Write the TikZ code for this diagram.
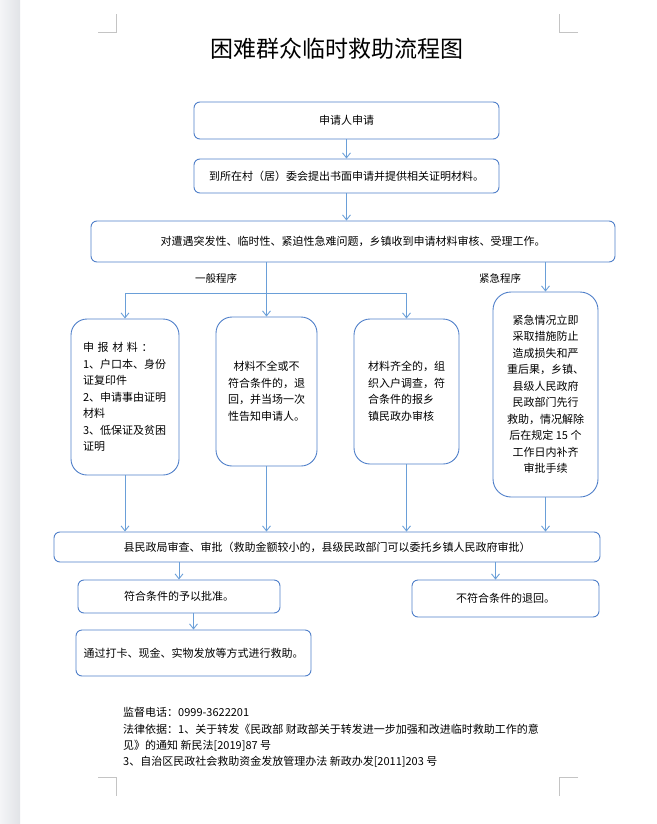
\documentclass[tikz,border=0pt]{standalone}
\usepackage{fontspec}
\setmainfont{Noto Sans CJK SC}
\usepackage{xcolor}
\usetikzlibrary{arrows.meta}
\definecolor{cFrame}{HTML}{4F7FC9}
\definecolor{cLink}{HTML}{6A9FD8}
\definecolor{cCrop}{HTML}{C4C4C4}
\definecolor{cStripL}{HTML}{F4F5F7}
\definecolor{cStripR}{HTML}{E1E3E7}
\tikzset{
  fbox/.style={draw=cFrame,rounded corners=#1,line width=0.9pt,align=center,inner sep=0pt,font=\fontsize{11}{16.5}\selectfont},
  fbox/.default=6pt,
  arr/.style={-{Straight Barb[length=5pt,width=8pt]},line width=0.9pt,color=cLink},
  lnk/.style={line width=0.9pt,color=cLink},
  lbl/.style={font=\fontsize{10.5}{12}\selectfont,inner sep=1pt},
  crop/.style={draw=cCrop,line width=0.8pt},
}

\begin{document}
\begin{tikzpicture}[x=1pt,y=-1pt]
  \useasboundingbox (0,0) rectangle (656,824);
  \shade[left color=cStripL,right color=cStripR] (0,0) rectangle (20,824);
  % crop marks
  \draw[crop] (98,32) -- (116,32) -- (116,14);
  \draw[crop] (578,32) -- (559,32) -- (559,14);
  \draw[crop] (98,777) -- (116,777) -- (116,796);
  \draw[crop] (578,777) -- (559,777) -- (559,796);
  \node[font=\fontsize{23}{23}\selectfont] (title) at (337,49) {困难群众临时救助流程图};
  % upper part
  \node[fbox,minimum width=305pt,minimum height=37pt] (apply) at (346.5,120.5) {申请人申请};
  \node[fbox,minimum width=305pt,minimum height=34pt] (submit) at (346.5,176) {到所在村（居）委会提出书面申请并提供相关证明材料。};
  \node[fbox,minimum width=524pt,minimum height=41pt] (accept) at (353,241.5) {对遭遇突发性、临时性、紧迫性急难问题，乡镇收到申请材料审核、受理工作。};
  \node[lbl] (normal) at (216,278) {一般程序};
  \node[lbl] (urgent) at (500,278) {紧急程序};
  % four columns
  \node[fbox=16pt,minimum width=108pt,minimum height=156pt,text width=84pt,align=left] (docs) at (125,397)
    {\makebox[80pt][s]{申 报 材 料 ：}\\1、户口本、身份\\证复印件\\2、申请事由证明\\材料\\3、低保证及贫困\\证明};
  \node[fbox=16pt,minimum width=101pt,minimum height=149pt] (reject) at (266.5,391.5)
    {材料不全或不\\符合条件的，退\\回，并当场一次\\性告知申请人。};
  \node[fbox=16pt,minimum width=105pt,minimum height=145pt,text width=77pt,align=left] (survey) at (406.5,391.5)
    {材料齐全的，组\\织入户调查，符\\合条件的报乡\\镇民政办审核};
  \node[fbox=18pt,minimum width=105pt,minimum height=205pt] (rescue) at (545.5,394.5)
    {紧急情况立即\\采取措施防止\\造成损失和严\\重后果，乡镇、\\县级人民政府\\民政部门先行\\救助，情况解除\\后在规定 15 个\\工作日内补齐\\审批手续};
  % lower part
  \node[fbox,minimum width=546pt,minimum height=30pt] (county) at (327,547)
    {县民政局审查、审批（救助金额较小的，县级民政部门可以委托乡镇人民政府审批）};
  \node[fbox,minimum width=202pt,minimum height=33pt] (grant) at (179,596.5) {符合条件的予以批准。};
  \node[fbox,minimum width=187pt,minimum height=37pt] (deny) at (505.5,598.5) {不符合条件的退回。};
  \node[fbox,minimum width=235pt,minimum height=46pt] (pay) at (193.5,653) {通过打卡、现金、实物发放等方式进行救助。};
  \coordinate (split) at (266.5,293);
  % connectors
  \draw[arr] (apply) -- (submit);
  \draw[arr] (submit.south) -- (submit.south |- accept.north);
  \draw[arr] (accept.south -| reject) -- (reject.north);
  \draw[lnk] (split -| docs) -- (split -| survey);
  \draw[arr] (split -| docs) -- (docs.north);
  \draw[arr] (split -| survey) -- (survey.north);
  \draw[arr] (accept.south -| rescue) -- (rescue.north);
  \draw[arr] (docs.south) -- (docs.south |- county.north);
  \draw[arr] (reject.south) -- (reject.south |- county.north);
  \draw[arr] (survey.south) -- (survey.south |- county.north);
  \draw[arr] (rescue.south) -- (rescue.south |- county.north);
  \draw[arr] (grant.north |- county.south) -- (grant.north);
  \draw[arr] ([xshift=-10pt]deny.north |- county.south) -- ([xshift=-10pt]deny.north);
  \draw[arr] (pay.north |- grant.south) -- (pay.north);
  % footer
  \node[anchor=west,align=left,inner sep=0pt,font=\fontsize{11}{16.3}\selectfont] (foot) at (123,737.5)
    {监督电话：0999-3622201\\
     法律依据：1、关于转发《民政部 财政部关于转发进一步加强和改进临时救助工作的意\\
     见》的通知 新民法[2019]87 号\\
     3、自治区民政社会救助资金发放管理办法 新政办发[2011]203 号};
\end{tikzpicture}
\end{document}
